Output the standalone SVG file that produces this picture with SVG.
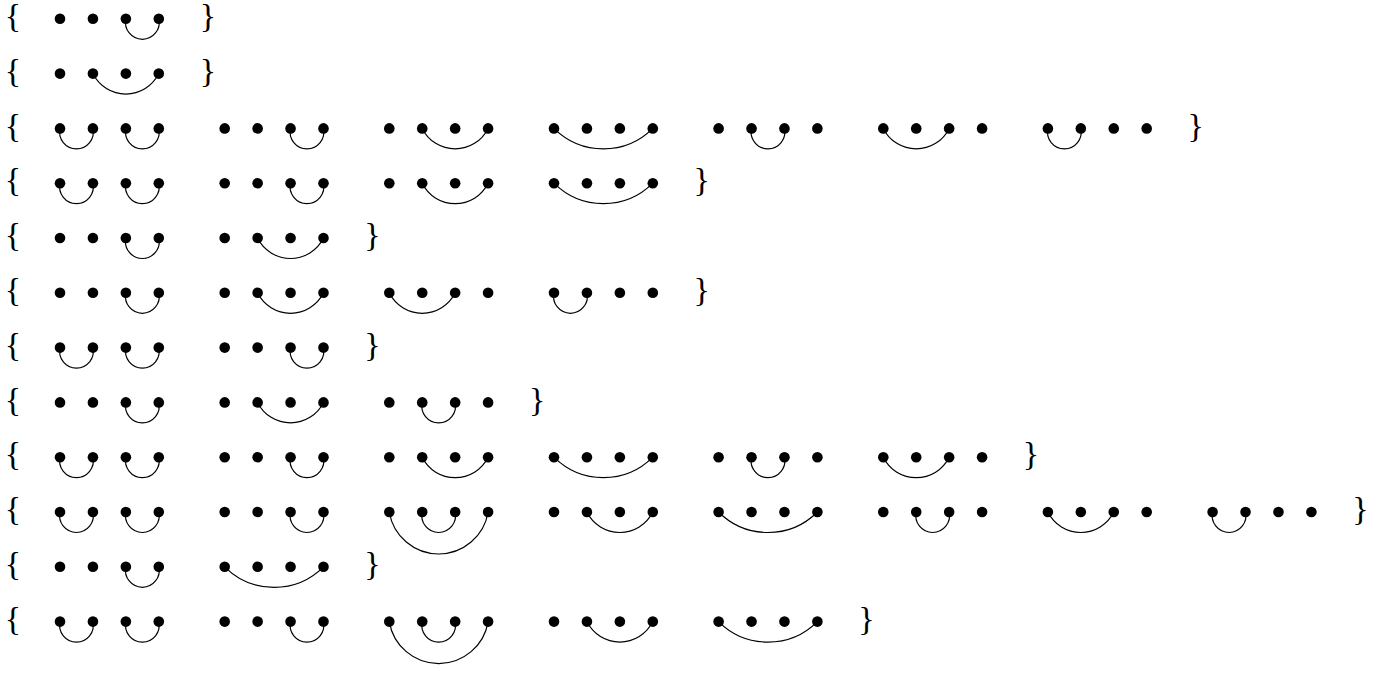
<svg xmlns="http://www.w3.org/2000/svg" width="1383" height="673" viewBox="0 0 1383 673">
<style>
.br{font-family:"Liberation Serif","Times New Roman",serif;font-size:34px;fill:#000;text-anchor:middle}
.arc{fill:none;stroke:#000;stroke-width:1.2}
.dot{fill:#000}
</style>
<defs>
<g id="q"><circle class="dot" cx="0" cy="0" r="5.3"/><circle class="dot" cx="32.93" cy="0" r="5.3"/><circle class="dot" cx="65.86" cy="0" r="5.3"/><circle class="dot" cx="98.79" cy="0" r="5.3"/></g>
<path id="a1" class="arc" d="M0 0 A16.86 16.86 0 1 0 32.93 0"/>
<path id="a2" class="arc" d="M0 0 A36.7 36.7 0 0 0 65.86 0"/>
<path id="a3" class="arc" d="M0 0 A69.76 69.76 0 0 0 98.79 0"/>
<path id="a3n" class="arc" d="M0 0 A50.05 50.05 0 0 0 98.79 0"/>
</defs>
<rect width="1383" height="673" fill="#fff"/>
<g id="connectors">
<use href="#a1" x="125.9" y="18.8"/>
<use href="#a2" x="92.9" y="73.6"/>
<use href="#a1" x="60" y="128.4"/><use href="#a1" x="125.9" y="128.4"/><use href="#a1" x="290.5" y="128.4"/><use href="#a2" x="422.2" y="128.4"/><use href="#a3" x="554" y="128.4"/><use href="#a1" x="751.5" y="128.4"/><use href="#a2" x="883.3" y="128.4"/><use href="#a1" x="1047.9" y="128.4"/>
<use href="#a1" x="60" y="183.2"/><use href="#a1" x="125.9" y="183.2"/><use href="#a1" x="290.5" y="183.2"/><use href="#a2" x="422.2" y="183.2"/><use href="#a3" x="554" y="183.2"/>
<use href="#a1" x="125.9" y="238"/><use href="#a2" x="257.6" y="238"/>
<use href="#a1" x="125.9" y="292.8"/><use href="#a2" x="257.6" y="292.8"/><use href="#a2" x="389.3" y="292.8"/><use href="#a1" x="554" y="292.8"/>
<use href="#a1" x="60" y="347.6"/><use href="#a1" x="125.9" y="347.6"/><use href="#a1" x="290.5" y="347.6"/>
<use href="#a1" x="125.9" y="402.4"/><use href="#a2" x="257.6" y="402.4"/><use href="#a1" x="422.2" y="402.4"/>
<use href="#a1" x="60" y="457.2"/><use href="#a1" x="125.9" y="457.2"/><use href="#a1" x="290.5" y="457.2"/><use href="#a2" x="422.2" y="457.2"/><use href="#a3" x="554" y="457.2"/><use href="#a1" x="751.5" y="457.2"/><use href="#a2" x="883.3" y="457.2"/>
<use href="#a1" x="60" y="512"/><use href="#a1" x="125.9" y="512"/><use href="#a1" x="290.5" y="512"/><use href="#a3n" x="389.3" y="512"/><use href="#a1" x="422.2" y="512"/><use href="#a2" x="586.9" y="512"/><use href="#a3" x="718.6" y="512"/><use href="#a1" x="916.2" y="512"/><use href="#a2" x="1047.9" y="512"/><use href="#a1" x="1212.6" y="512"/>
<use href="#a1" x="125.9" y="566.8"/><use href="#a3" x="224.7" y="566.8"/>
<use href="#a1" x="60" y="621.6"/><use href="#a1" x="125.9" y="621.6"/><use href="#a1" x="290.5" y="621.6"/><use href="#a3n" x="389.3" y="621.6"/><use href="#a1" x="422.2" y="621.6"/><use href="#a2" x="586.9" y="621.6"/><use href="#a3" x="718.6" y="621.6"/>
</g>
<g id="row1"><text class="br" x="13" y="27">{</text><g id="r1c1"><use href="#q" x="60" y="18.8"/></g><text class="br" x="207.8" y="27">}</text></g>
<g id="row2"><text class="br" x="13" y="81.8">{</text><g id="r2c1"><use href="#q" x="60" y="73.6"/></g><text class="br" x="207.8" y="81.8">}</text></g>
<g id="row3"><text class="br" x="13" y="136.6">{</text>
<g id="r3c1"><use href="#q" x="60" y="128.4"/></g><g id="r3c2"><use href="#q" x="224.7" y="128.4"/></g><g id="r3c3"><use href="#q" x="389.3" y="128.4"/></g><g id="r3c4"><use href="#q" x="554" y="128.4"/></g><g id="r3c5"><use href="#q" x="718.6" y="128.4"/></g><g id="r3c6"><use href="#q" x="883.3" y="128.4"/></g><g id="r3c7"><use href="#q" x="1047.9" y="128.4"/></g>
<text class="br" x="1195.7" y="136.6">}</text></g>
<g id="row4"><text class="br" x="13" y="191.4">{</text>
<g id="r4c1"><use href="#q" x="60" y="183.2"/></g><g id="r4c2"><use href="#q" x="224.7" y="183.2"/></g><g id="r4c3"><use href="#q" x="389.3" y="183.2"/></g><g id="r4c4"><use href="#q" x="554" y="183.2"/></g>
<text class="br" x="701.7" y="191.4">}</text></g>
<g id="row5"><text class="br" x="13" y="246.2">{</text>
<g id="r5c1"><use href="#q" x="60" y="238"/></g><g id="r5c2"><use href="#q" x="224.7" y="238"/></g>
<text class="br" x="372.4" y="246.2">}</text></g>
<g id="row6"><text class="br" x="13" y="301">{</text>
<g id="r6c1"><use href="#q" x="60" y="292.8"/></g><g id="r6c2"><use href="#q" x="224.7" y="292.8"/></g><g id="r6c3"><use href="#q" x="389.3" y="292.8"/></g><g id="r6c4"><use href="#q" x="554" y="292.8"/></g>
<text class="br" x="701.7" y="301">}</text></g>
<g id="row7"><text class="br" x="13" y="355.8">{</text>
<g id="r7c1"><use href="#q" x="60" y="347.6"/></g><g id="r7c2"><use href="#q" x="224.7" y="347.6"/></g>
<text class="br" x="372.4" y="355.8">}</text></g>
<g id="row8"><text class="br" x="13" y="410.6">{</text>
<g id="r8c1"><use href="#q" x="60" y="402.4"/></g><g id="r8c2"><use href="#q" x="224.7" y="402.4"/></g><g id="r8c3"><use href="#q" x="389.3" y="402.4"/></g>
<text class="br" x="537.1" y="410.6">}</text></g>
<g id="row9"><text class="br" x="13" y="465.4">{</text>
<g id="r9c1"><use href="#q" x="60" y="457.2"/></g><g id="r9c2"><use href="#q" x="224.7" y="457.2"/></g><g id="r9c3"><use href="#q" x="389.3" y="457.2"/></g><g id="r9c4"><use href="#q" x="554" y="457.2"/></g><g id="r9c5"><use href="#q" x="718.6" y="457.2"/></g><g id="r9c6"><use href="#q" x="883.3" y="457.2"/></g>
<text class="br" x="1031" y="465.4">}</text></g>
<g id="row10"><text class="br" x="13" y="520.2">{</text>
<g id="r10c1"><use href="#q" x="60" y="512"/></g><g id="r10c2"><use href="#q" x="224.7" y="512"/></g><g id="r10c3"><use href="#q" x="389.3" y="512"/></g><g id="r10c4"><use href="#q" x="554" y="512"/></g><g id="r10c5"><use href="#q" x="718.6" y="512"/></g><g id="r10c6"><use href="#q" x="883.3" y="512"/></g><g id="r10c7"><use href="#q" x="1047.9" y="512"/></g><g id="r10c8"><use href="#q" x="1212.6" y="512"/></g>
<text class="br" x="1360.3" y="520.2">}</text></g>
<g id="row11"><text class="br" x="13" y="575">{</text>
<g id="r11c1"><use href="#q" x="60" y="566.8"/></g><g id="r11c2"><use href="#q" x="224.7" y="566.8"/></g>
<text class="br" x="372.4" y="575">}</text></g>
<g id="row12"><text class="br" x="13" y="629.8">{</text>
<g id="r12c1"><use href="#q" x="60" y="621.6"/></g><g id="r12c2"><use href="#q" x="224.7" y="621.6"/></g><g id="r12c3"><use href="#q" x="389.3" y="621.6"/></g><g id="r12c4"><use href="#q" x="554" y="621.6"/></g><g id="r12c5"><use href="#q" x="718.6" y="621.6"/></g>
<text class="br" x="866.4" y="629.8">}</text></g>
</svg>
